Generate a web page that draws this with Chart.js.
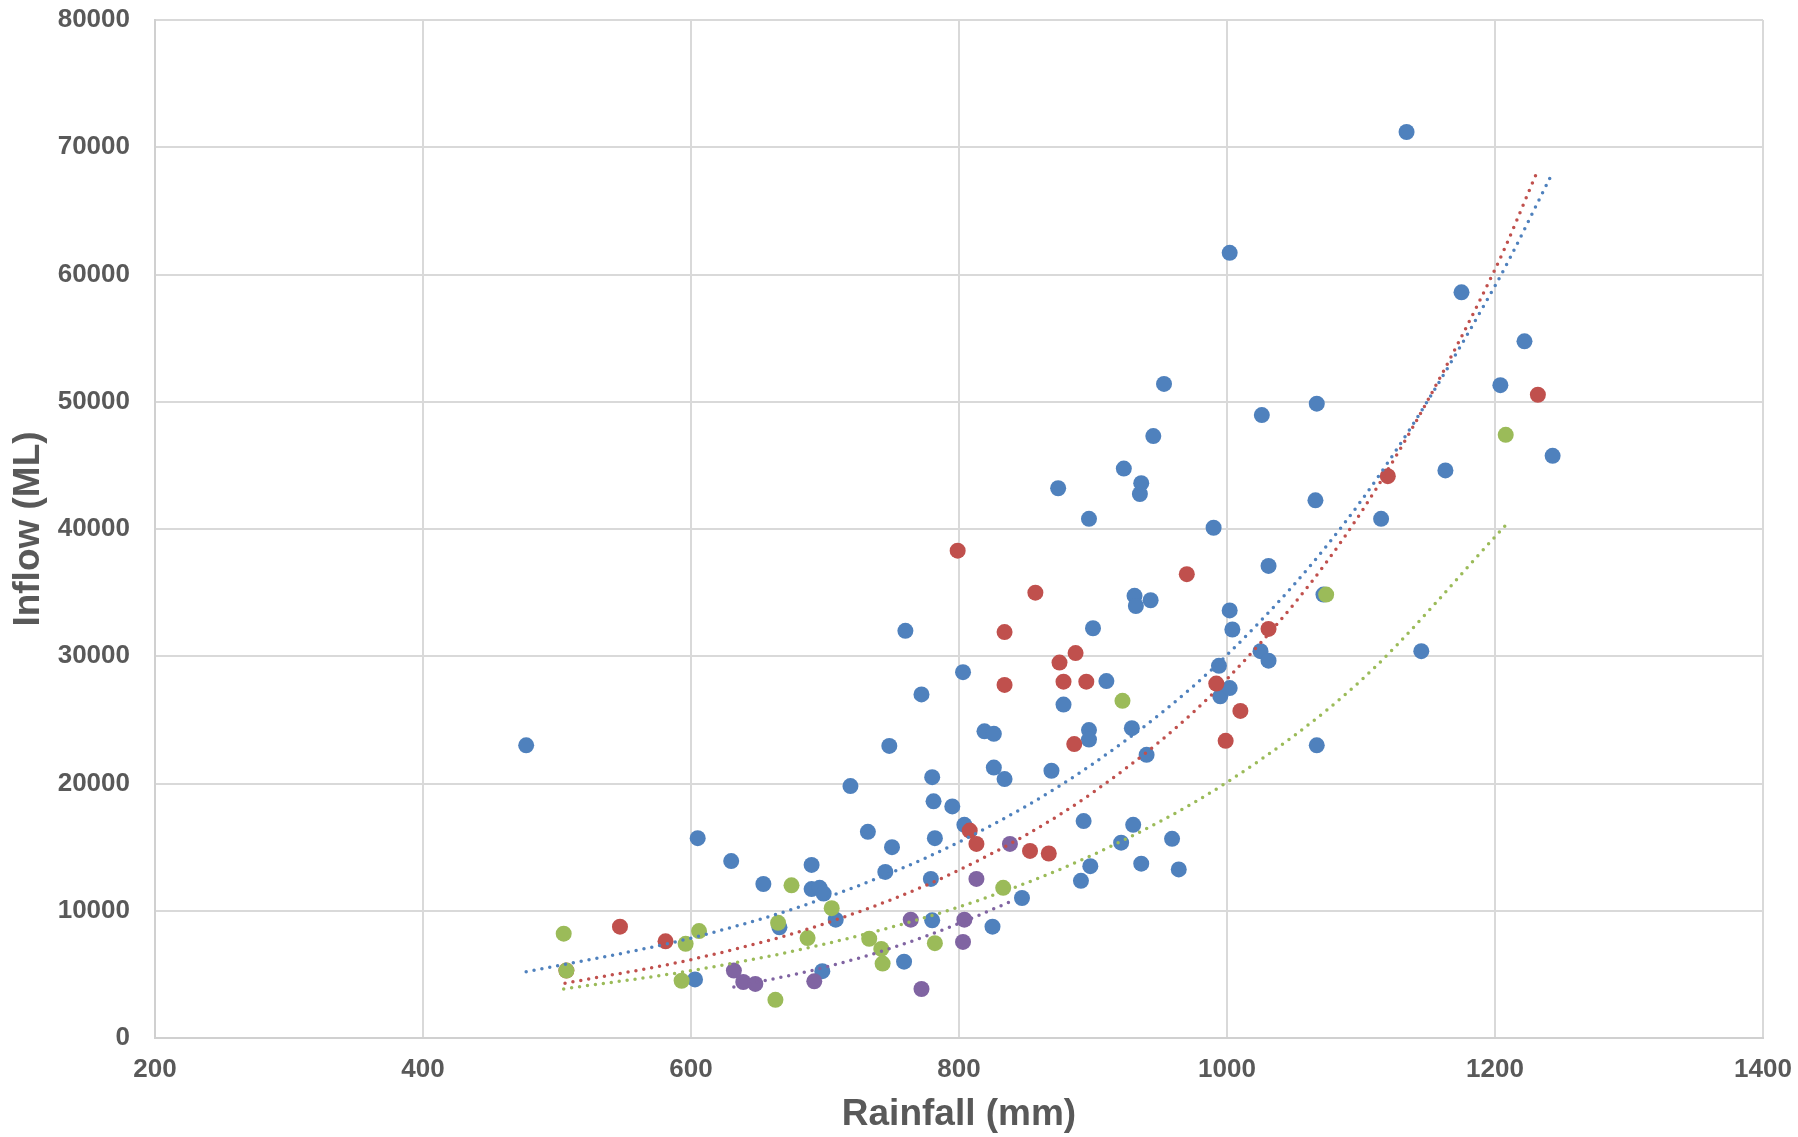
<!DOCTYPE html>
<html>
<head>
<meta charset="utf-8">
<script src="https://cdn.jsdelivr.net/npm/chart.js@4.4.1/dist/chart.umd.min.js"></script>
<style>
  html, body { margin: 0; padding: 0; background: #fff; }
  #wrap { width: 1798px; height: 1137px; }
</style>
</head>
<body>
<div id="wrap"><canvas id="chart" width="1798" height="1137"></canvas></div>
<script>
// Rainfall (mm) / Inflow (ML) per series
const blueX = [477, 603, 605, 630, 654, 666, 690, 690, 696, 699, 698, 708, 719, 732, 745, 748, 750, 759, 760, 772,
  779, 780, 780, 781, 782, 795, 803, 804, 819, 825, 826, 826, 834, 847, 869, 874, 878, 891, 893, 897,
  897, 897, 898, 900, 910, 921, 923, 929, 930, 931, 932, 935, 936, 936, 940, 943, 945, 953, 959, 964,
  990, 994, 995, 1002, 1002, 1002, 1004, 1025, 1026, 1031, 1031, 1066, 1067, 1067, 1072, 1115, 1134, 1145, 1163, 1175,
  1204, 1222, 1243];
const blueY = [23000, 4600, 15700, 13900, 12100, 8700, 13600, 11700, 11800, 11350, 5250, 9300, 19800, 16200, 13050, 22950, 15000, 6000, 32000, 27000,
  12500, 20500, 9250, 18600, 15700, 18200, 28750, 16750, 24100, 8750, 23900, 21250, 20350, 11000, 21000, 43200, 26200, 12350, 17050, 40800,
  24200, 23450, 13500, 32200, 28050, 15350, 44750, 24350, 16750, 34750, 33950, 42750, 43600, 13700, 22250, 34400, 47300, 51400, 15650, 13250,
  40100, 29250, 26850, 27500, 33600, 61700, 32100, 30400, 48950, 37100, 29650, 42250, 49850, 23000, 34850, 40800, 71200, 30400, 44600, 58600,
  51300, 54750, 45750];

// first red point sits under a green one (its trendline starts there)
const redX = [507, 547, 581, 799, 808, 813, 834, 834, 853, 857, 867, 875, 878, 886, 887, 895, 970, 992, 999, 1010, 1031, 1120, 1232];
const redY = [5300, 8750, 7600, 38300, 16300, 15250, 31900, 27750, 14700, 35000, 14500, 29500, 28000, 23100, 30250, 28000, 36450, 27850, 23350, 25700, 32150, 44150, 50550];

const greenX = [505, 507, 593, 596, 606, 663, 665, 675, 687, 705, 733, 742, 743, 782, 833, 922, 1074, 1208];
const greenY = [8200, 5300, 4500, 7400, 8400, 3000, 9050, 12000, 7850, 10200, 7800, 7000, 5850, 7450, 11800, 26500, 34850, 47400];

const purpleX = [632, 639, 648, 692, 764, 772, 803, 804, 813, 838];
const purpleY = [5300, 4400, 4250, 4450, 9300, 3850, 7550, 9300, 12500, 15250];

// exponential trendlines (dotted)
const blueTrendX = [477, 600, 700, 800, 900, 1000, 1100, 1200, 1243];
const blueTrendY = [5200, 7850, 11000, 15400, 21550, 30100, 42200, 59100, 68000];
const redTrendX = [506, 600, 700, 800, 900, 1000, 1100, 1200, 1232];
const redTrendY = [4300, 6160, 9000, 13200, 19300, 28200, 41300, 60400, 68200];
const greenTrendX = [505, 600, 700, 800, 900, 1000, 1100, 1208];
const greenTrendY = [3860, 5290, 7390, 10300, 14400, 20100, 28100, 40300];
const purpleTrendX = [632, 700, 750, 800, 838];
const purpleTrendY = [4000, 5560, 7080, 9000, 10700];

const xTicks = [200, 400, 600, 800, 1000, 1200, 1400];
const yTicks = [0, 10000, 20000, 30000, 40000, 50000, 60000, 70000, 80000];

const BLUE = '#4f81bd', RED = '#c0504d', GREEN = '#9bbb59', PURPLE = '#8064a2';
const GREY = '#595959';

function toPoints(xs, ys) {
  return xs.map((x, i) => ({ x: x, y: ys[i] }));
}

function scatterSet(label, xs, ys, color, order) {
  return {
    type: 'scatter',
    label: label,
    data: toPoints(xs, ys),
    backgroundColor: color,
    borderColor: color,
    borderWidth: 0,
    pointRadius: 8,
    pointHoverRadius: 8,
    order: order
  };
}

function trendSet(label, xs, ys, color, order) {
  return {
    type: 'line',
    label: label,
    data: toPoints(xs, ys),
    borderColor: color,
    borderWidth: 3.5,
    borderDash: [0, 8],
    borderCapStyle: 'round',
    cubicInterpolationMode: 'monotone',
    pointRadius: 0,
    fill: false,
    order: order
  };
}

const tickFont = { family: "'Liberation Sans', Arial, sans-serif", size: 26, weight: 'bold' };
const titleFont = { family: "'Liberation Sans', Arial, sans-serif", size: 37, weight: 'bold', lineHeight: 1.2 };

new Chart(document.getElementById('chart'), {
  data: {
    datasets: [
      trendSet('blue trend', blueTrendX, blueTrendY, BLUE, 4),
      trendSet('red trend', redTrendX, redTrendY, RED, 3),
      trendSet('green trend', greenTrendX, greenTrendY, GREEN, 2),
      trendSet('purple trend', purpleTrendX, purpleTrendY, PURPLE, 1),
      scatterSet('blue', blueX, blueY, BLUE, 9),
      scatterSet('red', redX, redY, RED, 8),
      scatterSet('green', greenX, greenY, GREEN, 7),
      scatterSet('purple', purpleX, purpleY, PURPLE, 6)
    ]
  },
  options: {
    responsive: false,
    animation: false,
    devicePixelRatio: 1,
    layout: { padding: { left: 0, right: 35, top: 20, bottom: 0 } },
    plugins: { legend: { display: false }, tooltip: { enabled: false } },
    scales: {
      x: {
        type: 'linear',
        min: 200, max: 1400,
        afterBuildTicks: s => { s.ticks = xTicks.map(v => ({ value: v })); },
        afterFit: s => { s.height = 99; s.paddingLeft = 0; s.paddingRight = 0; },
        grid: { color: '#d9d9d9', lineWidth: 2, drawTicks: false },
        border: { color: '#d0d0d0', width: 2 },
        ticks: { color: GREY, font: tickFont, padding: 16, maxRotation: 0, callback: v => String(v) },
        title: { display: true, text: 'Rainfall (mm)', color: GREY, font: titleFont, padding: { top: 2, bottom: 0 } }
      },
      y: {
        type: 'linear',
        min: 0, max: 80000,
        afterBuildTicks: s => { s.ticks = yTicks.map(v => ({ value: v })); },
        afterFit: s => { s.width = 155; s.paddingTop = 0; s.paddingBottom = 0; },
        grid: { color: '#d9d9d9', lineWidth: 2, drawTicks: false },
        border: { color: '#d0d0d0', width: 2 },
        ticks: { color: GREY, font: tickFont, padding: 25, callback: v => String(v) },
        title: { display: true, text: 'Inflow (ML)', color: GREY, font: titleFont, padding: { top: 7, bottom: 0 } }
      }
    }
  }
});
</script>
</body>
</html>
